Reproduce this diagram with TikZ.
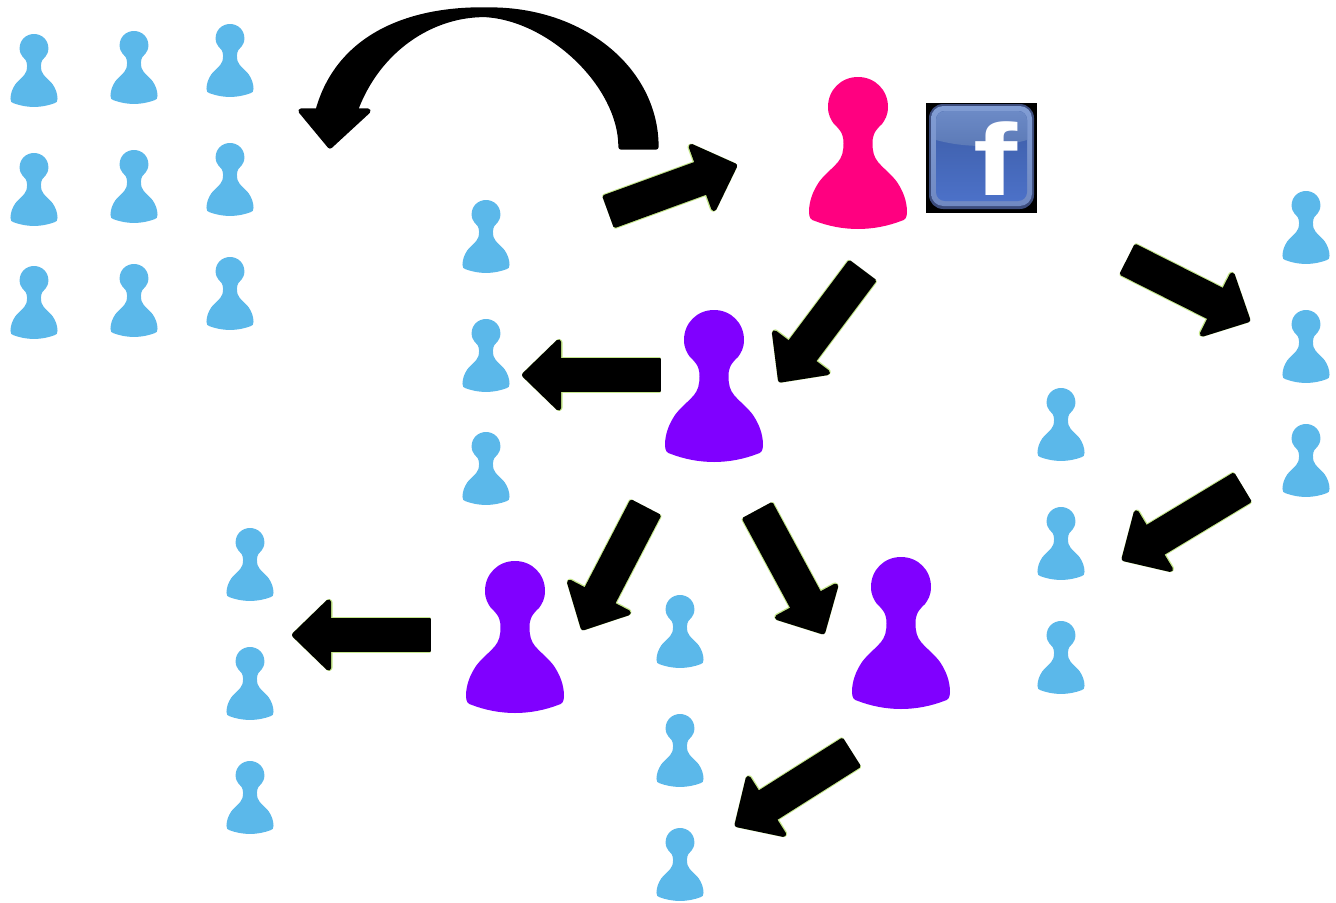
\documentclass[tikz,border=0pt]{standalone}
\usepackage{fontspec}
\setsansfont{Liberation Sans}
\usetikzlibrary{arrows.meta}
\definecolor{pawnblue}{HTML}{5BB8EA}
\definecolor{pawnpink}{HTML}{FF0080}
\definecolor{pawnviolet}{HTML}{8000FF}
\definecolor{arrowhalo}{HTML}{C4E68A}
\definecolor{fbglow}{HTML}{3C4C7C}
\definecolor{fbringtop}{HTML}{819DD4}
\definecolor{fbringlow}{HTML}{7089C2}
\definecolor{fbtop}{HTML}{6C8AC6}
\definecolor{fbgloss}{HTML}{5B79B6}
\definecolor{fbmid}{HTML}{3C5CA5}
\definecolor{fblow}{HTML}{4C71C8}
\tikzset{
  pawn/.pic={
    \fill (0,0) .. controls (17,0) and (30,13) .. (30,30)
    .. controls (30,38) and (27,43) .. (24,47)
    .. controls (20,51) and (14.5,55) .. (14.5,66)
    .. controls (14.5,75) and (16,80) .. (20,85)
    .. controls (26,92) and (34,98) .. (39,105)
    .. controls (45,114) and (49,124) .. (49,135)
    .. controls (49,141) and (47,143) .. (43,144)
    .. controls (30,149) and (15,152) .. (0,152)
    .. controls (-15,152) and (-30,149) .. (-43,144)
    .. controls (-47,143) and (-49,141) .. (-49,135)
    .. controls (-49,124) and (-45,114) .. (-39,105)
    .. controls (-34,98) and (-26,92) .. (-20,85)
    .. controls (-16,80) and (-14.5,75) .. (-14.5,66)
    .. controls (-14.5,55) and (-20,51) .. (-24,47)
    .. controls (-27,43) and (-30,38) .. (-30,30)
    .. controls (-30,13) and (-17,0) .. (0,0) -- cycle;
  },
  blockarrow/.style={line width=19.8pt,
    {Rectangle[round,line width=3pt,length=4pt,width=19.8pt]}-{Triangle[round,line width=3pt,length=23pt,width=44pt]}},
  blockhalo/.style={arrowhalo,line width=21pt,
    {Rectangle[round,line width=4pt,length=5pt,width=21pt]}-{Triangle[round,line width=4pt,length=24pt,width=45.5pt]}},
}
\begin{document}
\begin{tikzpicture}[x=0.02cm,y=-0.02cm,line join=round]
\useasboundingbox (0,0) rectangle (1336,903);
% small pawns
\foreach \x/\y in {34/34,134/31,230/24,34/153,134/150,230/143,34/266,134/264,230/257,
486/200,486/319,486/432,250/528,250/647,250/761,680/595,680/714,680/828,
1061/388,1061/507,1061/621,1306/191,1306/310,1306/424}
  \pic[pawnblue,scale=0.48] at (\x,\y) {pawn};
% big pawns
\pic[pawnpink] at (858,77) {pawn};
\foreach \x/\y in {714/310,515/561,901/557}
  \pic[pawnviolet] at (\x,\y) {pawn};
% arrow ends
\foreach \name/\x/\y in {backA/608/212,backB/737/165,pinkA/863/270,pinkB/779/382,
leftA/661/375,leftB/522/375,lowA/646/507,lowB/582/630,rightA/757/510,rightB/824/634,
farA/431/635,farB/292/635,nearA/852/752,nearB/735/826,sideA/1127/259,sideB/1250/321,
colA/1243/487,colB/1122/560}
  \coordinate (\name) at (\x,\y);
\foreach \a/\b in {backA/backB,pinkA/pinkB,leftA/leftB,lowA/lowB,rightA/rightB,
farA/farB,nearA/nearB,sideA/sideB,colA/colB}{
  \draw[blockhalo] (\a) -- (\b);
  \draw[blockarrow] (\a) -- (\b);
}
% curved arrow
\filldraw[line width=3pt] (656,147) .. controls (656,70) and (583,10) .. (490,10)
.. controls (407,8) and (338,38) .. (318,111)
-- (301,111) -- (330,146) -- (368,111) -- (355,111)
.. controls (378,48) and (433,14) .. (485,14.5)
.. controls (550,18) and (621,85) .. (621,147) -- cycle;
% logo
\fill[black] (926,103) rectangle (1037,213);
\fill[fbglow,rounded corners=8pt] (929,104) rectangle (1034,209);
\shade[top color=fbringtop,bottom color=fbringlow,rounded corners=7pt] (931,106) rectangle (1032,206);
\shade[top color=fbmid,bottom color=fblow,rounded corners=5pt] (936,111) rectangle (1027,201);
\begin{scope}
\clip[rounded corners=5pt] (936,111) rectangle (1027,201);
\shade[top color=fbtop,bottom color=fbgloss] (936,111) -- (1027,111) -- (1027,140)
.. controls (1000,148) and (965,148) .. (936,140) -- cycle;
\end{scope}
\node[white,inner sep=0pt,anchor=center,font=\sffamily\bfseries\fontsize{58}{58}\selectfont,xscale=1.3] (fbmark) at (996,158.5) {f};
\end{tikzpicture}
\end{document}
